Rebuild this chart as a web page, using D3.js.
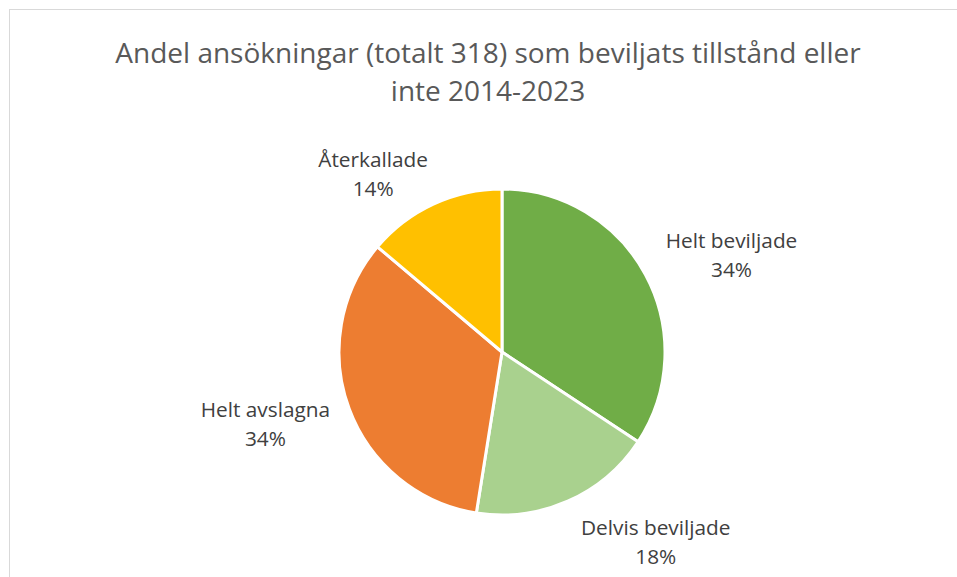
<!DOCTYPE html>
<html>
<head>
<meta charset="utf-8">
<script src="https://cdn.jsdelivr.net/npm/d3@7"></script>
<style>
  body { margin: 0; background: #fff; }
  svg { display: block; font-family: 'Open Sans', sans-serif; }
</style>
</head>
<body>
<div id="container"></div>
<script>
// antal ansökningar per utfall, 2014-2023 (totalt 318)
const categories = ['Helt beviljade', 'Delvis beviljade', 'Helt avslagna', 'Återkallade'];
const counts = [109, 58, 107, 44];
const colors = ['#70AD47', '#A9D18E', '#ED7D31', '#FFC000'];
const titleLines = ['Andel ansökningar (totalt 318) som beviljats tillstånd eller', 'inte 2014-2023'];

const width = 957;
const height = 577;
const cx = 502, cy = 352, radius = 163;
const labelRadius = 230;
// excel "best fit" shifts labels away from the plain mid-angle spot
const labelNudge = [[27, 12], [61, -20], [-21, -8], [-32, 31]];

const svg = d3.select('#container')
              .append('svg')
              .attr('width', width)
              .attr('height', height);

svg.append('rect')
   .attr('x', 9.5)
   .attr('y', 9.5)
   .attr('width', 958)
   .attr('height', 600)
   .attr('fill', '#fff')
   .attr('stroke', '#d9d9d9')
   .attr('stroke-width', 1);

svg.append('text')
   .attr('text-anchor', 'middle')
   .attr('fill', '#595959')
   .attr('font-size', 28)
   .selectAll('tspan')
   .data(titleLines)
   .enter()
   .append('tspan')
   .attr('x', 488)
   .attr('y', (d, i) => 63 + i * 38)
   .text(d => d);

const data = categories.map((c, i) => ({name: c, value: counts[i], color: colors[i], nudge: labelNudge[i]}));
const total = d3.sum(counts);

const pie = d3.pie().sort(null).value(d => d.value);
const arc = d3.arc().innerRadius(0).outerRadius(radius);
const labelArc = d3.arc().innerRadius(labelRadius).outerRadius(labelRadius);

const g = svg.append('g').attr('transform', 'translate(' + cx + ',' + cy + ')');
const arcs = pie(data);

g.selectAll('path')
 .data(arcs)
 .enter()
 .append('path')
 .attr('d', arc)
 .attr('fill', d => d.data.color)
 .attr('stroke', '#fff')
 .attr('stroke-width', 3)
 .attr('stroke-linejoin', 'round');

const label = g.selectAll('g.label')
               .data(arcs)
               .enter()
               .append('g')
               .attr('class', 'label')
               .attr('transform', d => {
                   const p = labelArc.centroid(d);
                   return 'translate(' + (p[0] + d.data.nudge[0]) + ',' + (p[1] + d.data.nudge[1]) + ')';
               });

label.append('text')
     .attr('text-anchor', 'middle')
     .attr('fill', '#404040')
     .attr('font-size', 20.8)
     .selectAll('tspan')
     .data(d => [d.data.name, Math.round(d.data.value / total * 100) + '%'])
     .enter()
     .append('tspan')
     .attr('x', 0)
     .attr('y', (d, i) => -7 + i * 29)
     .text(d => d);
</script>
</body>
</html>
